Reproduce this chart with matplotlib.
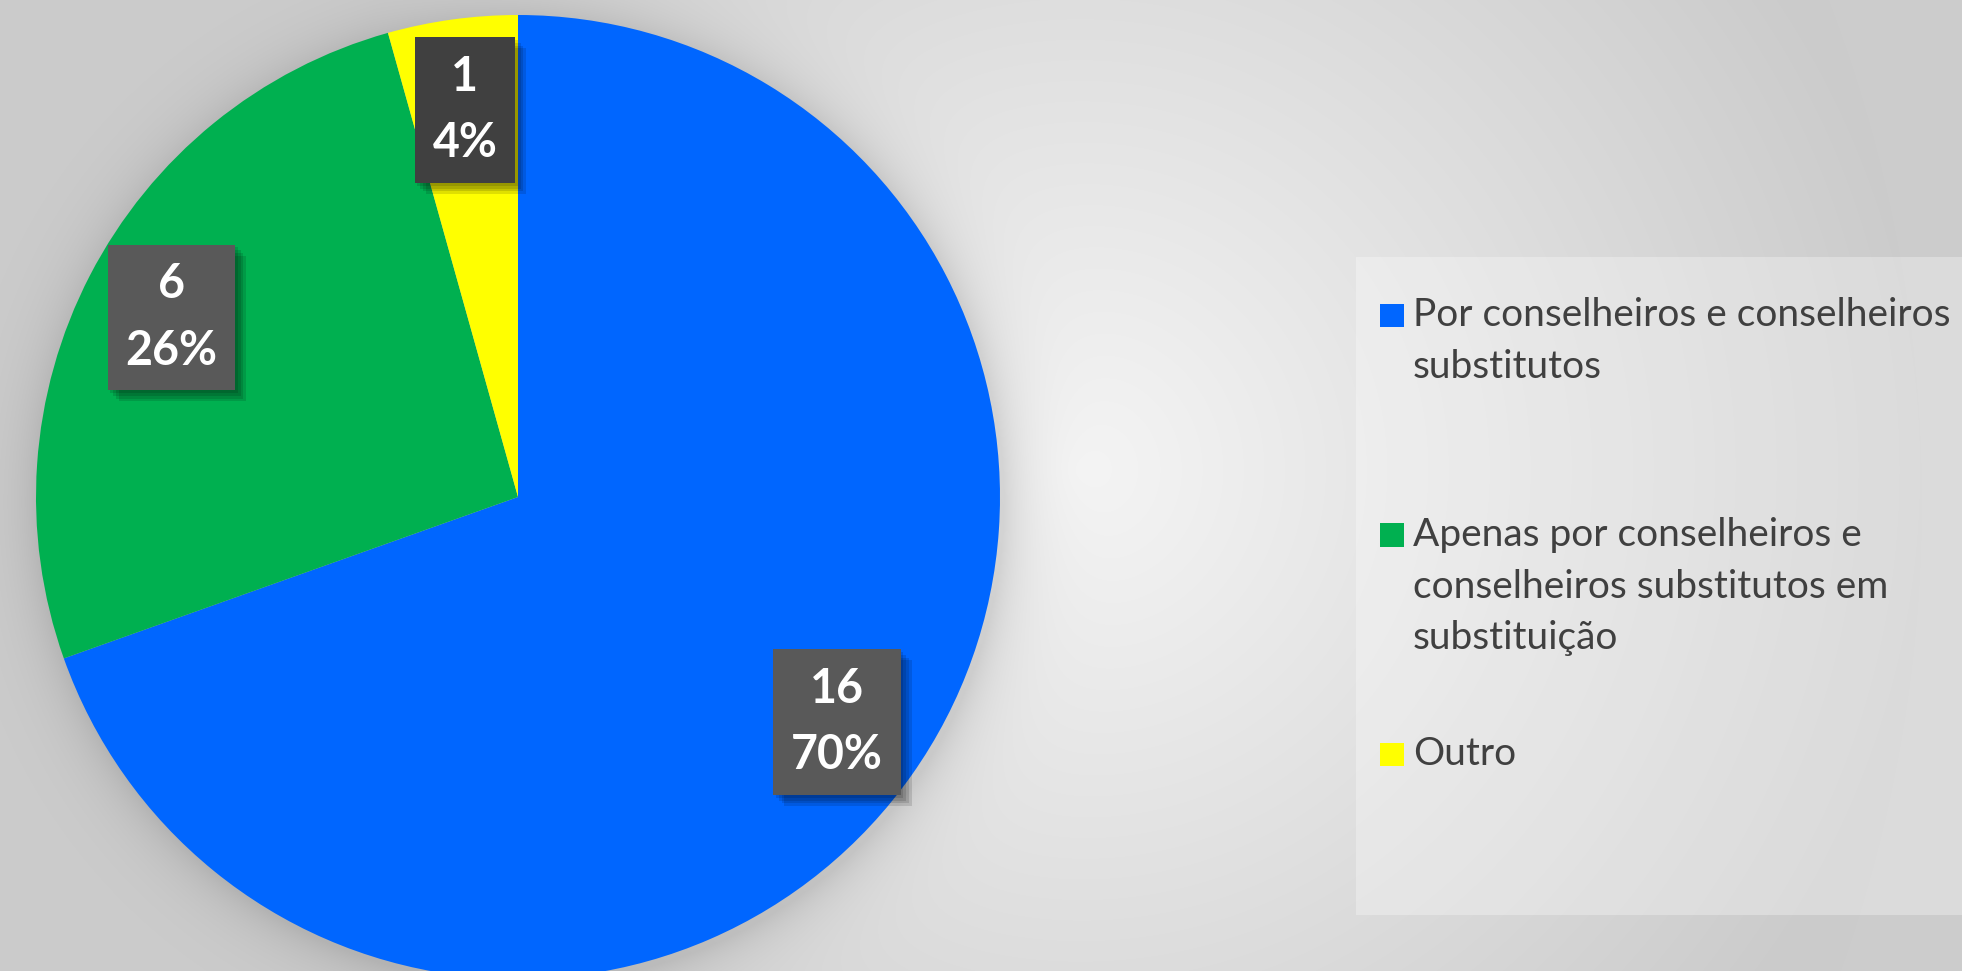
import numpy as np
import matplotlib
matplotlib.use("Agg")
import matplotlib.pyplot as plt
from matplotlib.patches import Rectangle
from matplotlib import patheffects as pe

# --- data -------------------------------------------------------------
categories = [
    "Por conselheiros e conselheiros\nsubstitutos",
    "Apenas por conselheiros e\nconselheiros substitutos em\nsubstituição",
    "Outro",
]
counts = [16, 6, 1]
colors = ["#0066FF", "#00B050", "#FFFF00"]
label_box_colors = ["#595959", "#595959", "#404040"]

# --- canvas -----------------------------------------------------------
W, H, DPI = 1962, 971, 100
fig = plt.figure(figsize=(W / DPI, H / DPI), dpi=DPI)

# pie geometry in pixels (from top-left)
cx, cy, R = 518, 497, 482

# background: soft radial gradient plus a faint glow around the pie
bg = fig.add_axes([0, 0, 1, 1])
yy, xx = np.mgrid[0:H, 0:W] + 0.5
d = np.hypot(xx - 1080, yy - 470)
val = 245 - 41 * np.clip(d / 840, 0, 1)
dp = np.hypot(xx - cx - 4, yy - cy - 5)
sh = np.clip(dp - R, 0, None)
val = val * (1 - 0.12 * np.exp(-sh / 26))
img = np.repeat((val / 255)[..., None], 3, axis=2)
bg.imshow(img, extent=(0, W, H, 0), interpolation="bilinear", aspect="auto", zorder=0)
bg.set_xlim(0, W)
bg.set_ylim(H, 0)
bg.axis("off")

# legend panel
bg.add_patch(Rectangle((1356, 257), W - 1356, 915 - 257, facecolor="white",
                       alpha=0.3, edgecolor="none", zorder=1))

# --- pie --------------------------------------------------------------
ax = fig.add_axes([(cx - R) / W, (H - cy - R) / H, 2 * R / W, 2 * R / H])
wedges, _ = ax.pie(counts, colors=colors, startangle=90, counterclock=False,
                   radius=1, wedgeprops=dict(linewidth=0))
ax.set_xlim(-1, 1)
ax.set_ylim(-1, 1)
ax.axis("off")
for w in wedges:
    w.set_clip_on(False)

total = sum(counts)
shadow = [pe.SimplePatchShadow(offset=(o, -o), shadow_rgbFace="black", alpha=0.12)
          for o in (2, 4, 6, 8)] + [pe.Normal()]
for w, n, fc in zip(wedges, counts, label_box_colors):
    ang = np.deg2rad((w.theta1 + w.theta2) / 2)
    x, y = 0.81 * np.cos(ang), 0.81 * np.sin(ang)
    t = ax.text(x, y, f"{n}\n{round(100 * n / total)}%", ha="center", va="center",
                fontsize=33.5, fontweight="bold", color="white", family="Lato",
                linespacing=1.62,
                bbox=dict(boxstyle="square,pad=0.38", fc=fc, ec="none"))
    t.get_bbox_patch().set_path_effects(shadow)

# --- legend -----------------------------------------------------------
line_step = 52
for i, (lab, col) in enumerate(zip(categories, colors)):
    base = 326 + 219.5 * i
    bg.add_patch(Rectangle((1380, base - 22), 23.5, 23.5, facecolor=col,
                           edgecolor="none", zorder=2))
    last_base = base + lab.count("\n") * line_step
    bg.text(1413, last_base, lab, ha="left", va="baseline", fontsize=28, family="Lato",
            color="#404040", linespacing=1.54, zorder=3)

fig.savefig("out.png", dpi=DPI)
